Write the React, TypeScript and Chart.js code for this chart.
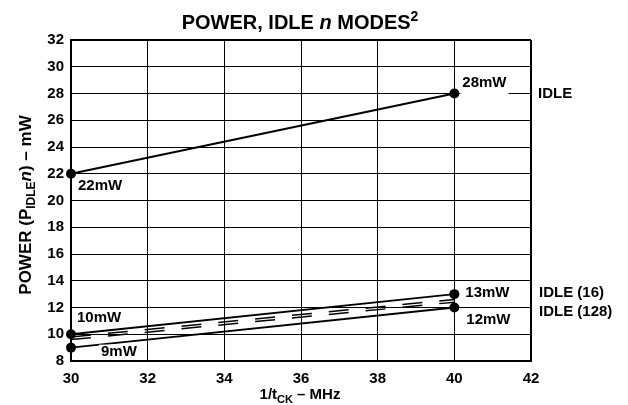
import React, { useEffect, useRef } from "react";
import { Chart, registerables } from "chart.js";

Chart.register(...registerables);

// ---- data ----
const freqMHz = [30, 40];
const idlePower = [22, 28];
const idle16Power = [10, 13];
const idle128Power = [9, 12];
const idleDashUpper = [9.8, 12.6];
const idleDashLower = [9.6, 12.4];
const idleLabels = ["22mW", "28mW"];
const idle16Labels = ["10mW", "13mW"];
const idle128Labels = ["9mW", "12mW"];
const seriesNames = ["IDLE", "IDLE (16)", "IDLE (128)"];
const xMin = 30, xMax = 42, xStep = 2;
const yMin = 8, yMax = 32, yStep = 2;

const FONT = "'Liberation Sans', Arial, Helvetica, sans-serif";

type Seg = { t: string; size: number; italic?: boolean; dy?: number };

function drawRich(ctx: CanvasRenderingContext2D, segs: Seg[], x: number, y: number, align: "center" | "left") {
  ctx.textBaseline = "alphabetic";
  ctx.textAlign = "left";
  let total = 0;
  const widths = segs.map((s) => {
    ctx.font = `${s.italic ? "italic " : ""}bold ${s.size}px ${FONT}`;
    const w = ctx.measureText(s.t).width;
    total += w;
    return w;
  });
  let cx = align === "center" ? x - total / 2 : x;
  segs.forEach((s, i) => {
    ctx.font = `${s.italic ? "italic " : ""}bold ${s.size}px ${FONT}`;
    ctx.fillText(s.t, cx, y + (s.dy || 0));
    cx += widths[i];
  });
}

const textPlugin = {
  id: "texts",
  afterDraw(chart: any) {
    const ctx: CanvasRenderingContext2D = chart.ctx;
    const xs = chart.scales.x;
    const ys = chart.scales.y;
    ctx.save();
    ctx.fillStyle = "#000";

    // title
    drawRich(ctx, [
      { t: "POWER, IDLE ", size: 20 },
      { t: "n", size: 20, italic: true },
      { t: " MODES", size: 20 },
      { t: "2", size: 14, dy: -8 },
    ], 300, 29, "center");

    // x title
    drawRich(ctx, [
      { t: "1/t", size: 15 },
      { t: "CK", size: 11, dy: 4 },
      { t: " \u2013 MHz", size: 15 },
    ], 300, 399, "center");

    // y title
    ctx.save();
    ctx.translate(31, 205);
    ctx.rotate(-Math.PI / 2);
    drawRich(ctx, [
      { t: "POWER (P", size: 17 },
      { t: "IDLE", size: 12, dy: 4 },
      { t: "n", size: 17, italic: true },
      { t: ") \u2013 mW", size: 17 },
    ], 0, 0, "center");
    ctx.restore();

    // point labels (white box behind, masking grid lines)
    ctx.font = `bold 15px ${FONT}`;
    ctx.textBaseline = "middle";
    ctx.textAlign = "left";
    const lbl = (xv: number, yv: number, txt: string, dx: number, dy: number, extraBelow = 0) => {
      const px = xs.getPixelForValue(xv) + dx;
      const py = ys.getPixelForValue(yv) + dy;
      const w = ctx.measureText(txt).width;
      ctx.fillStyle = "#fff";
      ctx.fillRect(px - 2, py - 7, w + 4, 14 + extraBelow);
      ctx.fillStyle = "#000";
      ctx.fillText(txt, px, py);
    };
    lbl(freqMHz[0], idlePower[0], idleLabels[0], 7, 12);
    lbl(freqMHz[1], idlePower[1], idleLabels[1], 8, -11, 6);
    lbl(freqMHz[0], idle16Power[0], idle16Labels[0], 6, -16);
    lbl(freqMHz[1], idle16Power[1], idle16Labels[1], 11, -1);
    lbl(freqMHz[0], idle128Power[0], idle128Labels[0], 30, 4);
    lbl(freqMHz[1], idle128Power[1], idle128Labels[1], 12, 12);

    // series labels
    const rx = xs.right;
    const sl = (txt: string, dx: number, py: number) => {
      const w = ctx.measureText(txt).width;
      ctx.fillStyle = "#fff";
      ctx.fillRect(rx + dx - 3, py - 7, w + 6, 14);
      ctx.fillStyle = "#000";
      ctx.fillText(txt, rx + dx, py);
    };
    sl(seriesNames[0], 7, ys.getPixelForValue(idlePower[1]) + 0);
    sl(seriesNames[1], 8, ys.getPixelForValue(idle16Power[1]) - 1);
    sl(seriesNames[2], 8, ys.getPixelForValue(idle128Power[1]) + 4);
    ctx.restore();
  },
};

export default function App() {
  const ref = useRef<HTMLCanvasElement>(null);
  useEffect(() => {
    if (!ref.current) return;
    const pts = (ys: number[]) => freqMHz.map((x, i) => ({ x, y: ys[i] }));
    const solid = (label: string, ys: number[]) => ({
      label,
      data: pts(ys),
      borderColor: "#000",
      backgroundColor: "#000",
      borderWidth: 2,
      pointRadius: 5,
      pointBackgroundColor: "#000",
      pointBorderColor: "#000",
      pointBorderWidth: 0,
      clip: false as any,
      order: 1,
    });
    const dashed = (label: string, ys: number[]) => ({
      label,
      data: pts(ys),
      borderColor: "#000",
      borderWidth: 1.5,
      borderDash: [20, 17],
      pointRadius: 0,
      clip: false as any,
      order: 2,
    });
    const tickFont = { family: FONT, size: 15, weight: "bold" as const };
    const chart = new Chart(ref.current, {
      type: "line",
      data: {
        datasets: [
          dashed("dashA", idleDashUpper),
          dashed("dashB", idleDashLower),
          solid(seriesNames[0], idlePower),
          solid(seriesNames[1], idle16Power),
          solid(seriesNames[2], idle128Power),
        ],
      },
      options: {
        responsive: false,
        animation: false,
        layout: { padding: { left: 0, right: 97, top: 40, bottom: 0 } },
        plugins: { legend: { display: false }, tooltip: { enabled: false }, title: { display: false } },
        scales: {
          x: {
            type: "linear",
            min: xMin,
            max: xMax,
            ticks: { stepSize: xStep, color: "#000", font: tickFont, padding: 9, maxRotation: 0 },
            grid: {
              color: "#000",
              lineWidth: (c: any) => (c.tick && c.tick.value === xMax ? 2 : 1),
              drawTicks: false,
            },
            border: { color: "#000", width: 2 },
            afterFit: (s: any) => { s.height = 44; },
          },
          y: {
            type: "linear",
            min: yMin,
            max: yMax,
            ticks: { stepSize: yStep, color: "#000", font: tickFont, padding: 7 },
            grid: {
              color: "#000",
              lineWidth: (c: any) => (c.tick && c.tick.value === yMax ? 2 : 1),
              drawTicks: false,
            },
            border: { color: "#000", width: 2 },
            afterFit: (s: any) => { s.width = 71; },
          },
        },
      } as any,
      plugins: [textPlugin],
    });
    return () => chart.destroy();
  }, []);
  return (
    <div style={{ position: "absolute", left: 0, top: 0, width: 628, height: 405, background: "#fff" }}>
      <canvas ref={ref} width={628} height={405} style={{ display: "block" }} />
    </div>
  );
}
